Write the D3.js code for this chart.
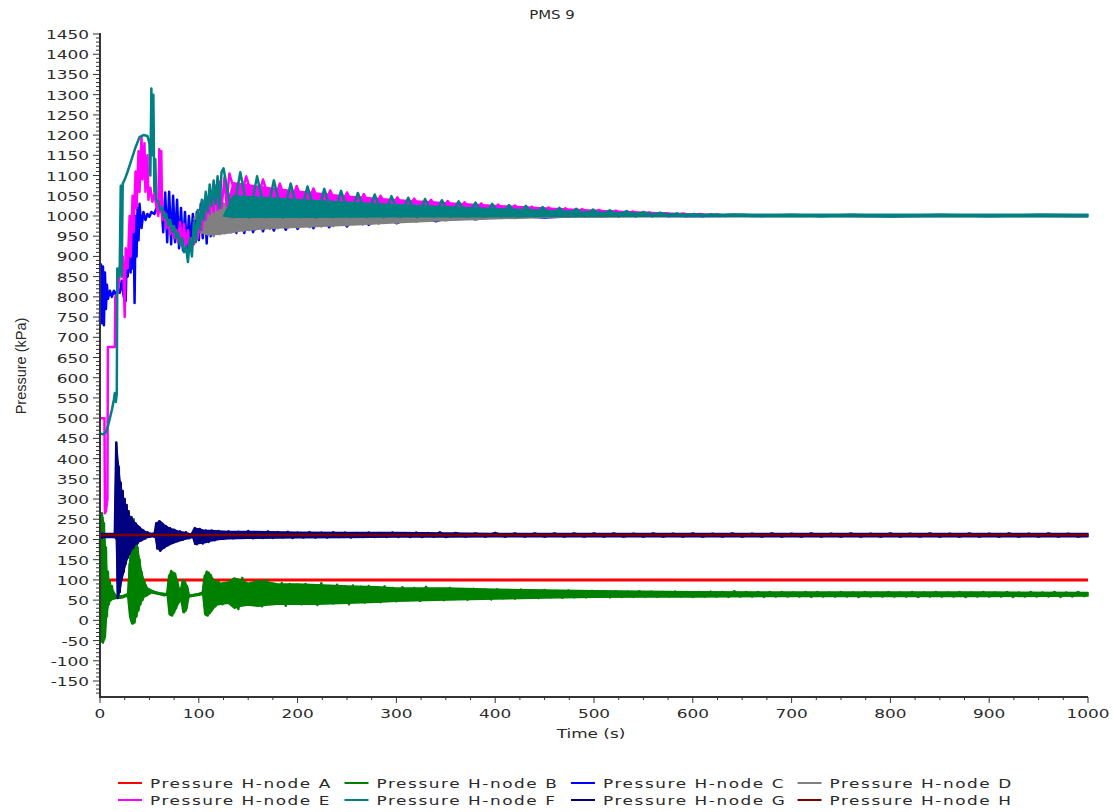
<!DOCTYPE html>
<html><head><meta charset="utf-8">
<script src="https://cdn.jsdelivr.net/npm/d3@7"></script>
<style>body{margin:0;background:#fff} svg{display:block}</style>
</head><body>
<svg id="chart" width="1113" height="812"></svg>
<script>
const chartTitle = "PMS 9";
const xLabel = "Time (s)";
const yLabel = "Pressure (kPa)";
const xTickValues = [0,100,200,300,400,500,600,700,800,900,1000];
const yTickValues = [-150,-100,-50,0,50,100,150,200,250,300,350,400,450,500,550,600,650,700,750,800,850,900,950,1000,1050,1100,1150,1200,1250,1300,1350,1400,1450];
const seriesNames = ["Pressure H-node A","Pressure H-node B","Pressure H-node C","Pressure H-node D","Pressure H-node E","Pressure H-node F","Pressure H-node G","Pressure H-node H"];
const seriesColors = ["#ff0000","#008000","#0000ff","#808080","#ff00ff","#008080","#000080","#800000"];

// traces: [time s, pressure kPa]
const nodeA = [[0,100],[1000,100]];
const nodeH = [[0,211],[1000,211]];
const nodeB = [[0,200],[1,-50],[2,265],[3,-55],[4,240],[5,-40],[6,180],[7,10],[8,120],[9,40],[10,95],[11,50],[12,85],[13,55],[15,60],[18,56],[22,58],[26,62],[29,65],[30,140],[31,10],[32,240],[33,-8],[34,250],[35,-5],[36,220],[37,10],[38,180],[39,25],[40,150],[41,40],[42,120],[43,50],[45,95],[47,62],[50,75],[55,70],[60,66],[65,62],[68,65],[70,110],[71,15],[72,122],[73,12],[74,118],[75,20],[76,115],[77,30],[78,100],[80,45],[82,75],[84,100],[85,20],[86,95],[87,25],[88,85],[90,60],[95,63],[100,65],[104,68],[106,110],[107,15],[108,120],[109,12],[110,118],[111,18],[112,112],[113,25],[115,100],[117,35],[120,95],[124,40],[128,92],[132,45],[136,100],[140,28],[144,105],[148,42],[152,90],[156,38],[160,95],[164,35],[168,100],[172,40],[176,88],[180,42],[184,92],[188,36],[192,90],[196,45],[200,88],[204,40],[208,90],[212,44],[216,86],[220,38],[224,92],[228,45],[232,85],[236,42],[240,88],[244,46],[248,84],[252,40],[256,86],[260,47],[264,83],[268,44],[272,85],[276,48],[280,82],[284,45],[288,84],[292,50],[296,80],[300,47],[306,82],[312,50],[318,80],[324,48],[330,83],[336,52],[342,78],[348,50],[354,80],[360,53],[366,77],[372,51],[378,78],[384,54],[390,76],[396,52],[402,77],[408,55],[414,75],[420,54],[426,76],[432,56],[438,74],[444,55],[450,75],[456,57],[462,73],[468,56],[474,74],[480,57],[486,72],[492,57],[498,73],[504,58],[510,72],[516,57],[522,72],[528,58],[534,71],[540,58],[546,72],[552,59],[558,71],[564,58],[570,70],[576,59],[582,71],[588,59],[594,70],[600,58],[606,70],[612,59],[618,71],[624,59],[630,70],[636,58],[642,72],[648,59],[654,70],[660,59],[666,70],[672,58],[678,70],[684,59],[690,70],[696,59],[702,69],[708,59],[714,70],[720,58],[726,70],[732,59],[738,69],[744,59],[750,70],[756,59],[762,69],[768,58],[774,70],[780,59],[786,69],[792,59],[798,70],[804,59],[810,69],[816,59],[822,70],[828,58],[834,69],[840,59],[846,70],[852,59],[858,69],[864,59],[870,70],[876,58],[882,69],[888,59],[894,70],[900,59],[906,69],[912,59],[918,70],[924,58],[930,69],[936,59],[942,70],[948,59],[954,69],[960,59],[966,70],[972,58],[978,69],[984,59],[990,70],[996,60],[1000,65]];
const nodeC = [[0,740],[1,880],[2,735],[3,875],[4,730],[5,860],[6,770],[7,830],[8,795],[10,815],[12,800],[14,815],[16,805],[18,820],[20,810],[22,840],[24,800],[25,880],[26,790],[27,900],[28,850],[30,940],[31,860],[32,960],[33,870],[34,985],[35,785],[36,1000],[37,900],[38,1020],[39,940],[40,1030],[42,970],[44,1010],[46,990],[48,1005],[50,998],[52,1010],[55,1005],[58,1025],[60,1010],[62,1035],[64,960],[66,1058],[68,935],[70,1060],[72,930],[74,1050],[76,935],[78,1040],[80,920],[82,1020],[84,915],[86,1010],[88,910],[90,1000],[92,930],[94,1005],[96,945],[98,1010],[100,940],[102,1030],[104,945],[106,1040],[108,932],[110,1045],[112,950],[114,1055],[116,955],[118,1040],[120,960],[123,1030],[126,958],[129,1025],[132,960],[135,1018],[138,958],[142,1005],[146,958],[150,1002],[155,960],[160,1002],[165,962],[170,1003],[176,964],[182,1003],[188,966],[194,1004],[200,968],[208,1004],[216,970],[224,1004],[232,972],[240,1004],[250,974],[260,1004],[272,978],[285,1003],[300,982],[320,1003],[340,987],[360,1002],[380,992],[400,1002],[450,996],[500,1002],[600,999],[700,1002],[800,999],[900,1002],[1000,1000]];
const nodeD = [[95,990],[100,1010],[103,960],[106,1020],[109,955],[112,1030],[115,950],[118,1030],[121,955],[124,1032],[127,958],[130,1028],[133,960],[136,1025],[139,962],[142,1020],[145,963],[148,1015],[151,965],[154,1012],[157,966],[160,1010],[164,968],[168,1008],[172,968],[176,1006],[180,970],[185,1005],[190,970],[195,1004],[200,972],[206,1003],[212,972],[218,1003],[224,974],[230,1002],[236,975],[242,1002],[250,977],[258,1002],[266,979],[274,1001],[282,981],[290,1001],[300,983],[310,1001],[320,986],[335,1001],[350,989],[365,1000],[380,992],[400,1000],[420,995],[450,1000],[500,998],[600,1000],[1000,1000]];
const nodeE = [[0,500],[4.5,500],[5,265],[6,270],[7.5,300],[8,676],[15,676],[15.5,800],[18,810],[21,880],[23,900],[24,840],[25,750],[26,920],[28,870],[30,1000],[31,900],[33,1050],[34,960],[36,1110],[37,1020],[39,1160],[40,1060],[42,1195],[43,1090],[45,1180],[46,1060],[48,1150],[49,1040],[51,1070],[53,1035],[55,1055],[57,1025],[59,1000],[60,1165],[61,1010],[62,1160],[63,990],[65,1010],[67,970],[69,990],[71,955],[73,975],[75,945],[77,965],[79,935],[81,985],[83,925],[85,980],[87,918],[89,965],[91,915],[93,945],[95,930],[97,965],[99,945],[101,995],[103,965],[105,1025],[107,990],[109,1045],[111,1005],[113,1060],[115,1010],[117,1075],[119,1015],[121,1085],[123,1020],[126,1095],[128,1030],[131,1105],[140,1025],[148,1098],[157,1022],[165,1090],[174,1018],[182,1080],[191,1016],[199,1074],[208,1015],[216,1068],[225,1014],[233,1063],[242,1013],[250,1058],[259,1012],[267,1054],[276,1011],[284,1050],[293,1010],[301,1046],[310,1009],[318,1043],[327,1008],[335,1040],[344,1007],[352,1037],[361,1006],[369,1034],[378,1006],[386,1031],[395,1005],[403,1028],[412,1005],[420,1026],[429,1004],[437,1023],[446,1004],[454,1021],[463,1003],[471,1019],[480,1003],[488,1017],[497,1003],[505,1015],[514,1002],[522,1013],[531,1002],[539,1011],[548,1002],[556,1009],[565,1001],[573,1007],[582,1001],[590,1006],[599,1001],[607,1005],[616,1000],[624,1004],[633,1000],[641,1003],[660,1000],[700,1001],[1000,1000]];
const nodeF = [[0,462],[3,460],[6,465],[8,480],[10,500],[12,520],[14,545],[15,562],[16,540],[17,560],[17.5,870],[19,850],[20,880],[21,1075],[22,850],[23,1080],[25,1090],[28,1110],[32,1140],[36,1170],[40,1195],[44,1200],[48,1198],[50,1180],[51,1100],[52,1315],[53,1150],[54,1300],[55,1060],[56,1140],[57,1040],[59,1035],[61,1015],[63,1020],[65,995],[67,1005],[69,975],[71,990],[73,960],[75,975],[77,945],[79,960],[81,928],[83,945],[85,910],[87,925],[89,886],[91,945],[93,900],[95,985],[97,935],[99,1015],[101,965],[103,1040],[105,990],[107,1060],[109,1010],[111,1078],[113,1025],[115,1088],[117,1030],[119,1098],[121,1020],[123,1108],[125,1118],[134,997],[142,1108],[151,996],[159,1098],[168,997],[176,1088],[185,996],[193,1080],[202,997],[210,1073],[219,996],[227,1067],[236,997],[244,1062],[253,997],[261,1057],[270,997],[278,1053],[287,997],[295,1049],[304,998],[312,1045],[321,997],[329,1042],[338,998],[346,1039],[355,998],[363,1036],[372,998],[380,1033],[389,998],[397,1030],[406,998],[414,1027],[423,998],[431,1025],[440,999],[448,1022],[457,999],[465,1020],[474,999],[482,1018],[491,999],[499,1016],[508,999],[516,1014],[525,999],[533,1012],[542,999],[550,1010],[559,999],[567,1008],[576,999],[584,1006],[593,999],[601,1005],[610,999],[618,1004],[627,1000],[635,1003],[652,1003],[670,1000],[700,1003],[730,999],[760,1003],[800,999],[850,1003],[900,999],[950,1003],[1000,1001]];
const nodeG = [[0,215],[2,205],[5,212],[10,208],[15,210],[16.5,440],[18,55],[19,380],[20,70],[21,340],[22,100],[23,320],[24,120],[25,300],[26,140],[27,285],[28,155],[29,270],[30,165],[32,255],[34,180],[36,240],[38,190],[40,230],[42,198],[44,222],[46,203],[48,218],[50,207],[53,214],[55,208],[57,240],[58,178],[60,245],[61,172],[63,238],[65,180],[67,232],[69,186],[71,228],[73,192],[75,224],[78,196],[81,220],[84,200],[87,218],[90,203],[93,214],[96,228],[98,188],[101,226],[104,190],[107,222],[110,194],[113,222],[116,198],[120,221],[125,202],[130,220],[135,203],[140,219],[145,204],[150,221],[155,203],[160,218],[165,204],[170,220],[175,204],[180,218],[185,205],[190,219],[195,204],[200,217],[206,205],[212,218],[218,205],[224,217],[230,205],[236,218],[242,206],[248,217],[254,205],[260,216],[266,206],[272,217],[278,206],[284,216],[290,206],[296,217],[302,206],[308,216],[314,206],[320,217],[326,206],[332,216],[338,207],[344,218],[350,206],[360,216],[370,207],[380,215],[390,207],[400,216],[410,207],[420,215],[430,207],[440,215],[450,207],[460,215],[470,207],[480,215],[490,207],[500,215],[510,207],[520,215],[530,207],[540,214],[550,207],[560,215],[570,207],[580,214],[590,207],[600,215],[610,207],[620,214],[630,207],[640,215],[650,207],[660,214],[670,207],[680,215],[690,207],[700,214],[710,207],[720,215],[730,207],[740,214],[750,207],[760,215],[770,207],[780,214],[790,207],[800,215],[810,207],[820,214],[830,207],[840,215],[850,207],[860,214],[870,207],[880,215],[890,207],[900,214],[910,207],[920,215],[930,207],[940,214],[950,207],[960,215],[970,207],[980,214],[990,207],[1000,212]];

// dense-oscillation envelopes: [time s, low kPa, high kPa]
const bandB = [[0,-50,265],[3,-55,255],[5,-45,200],[7,20,110],[9,45,95],[11,50,82],[13,52,75],[16,54,62],[22,55,60],[28,60,66],[30,10,140],[32,-8,245],[34,-8,250],[36,5,220],[38,20,180],[40,35,150],[42,48,120],[45,58,95],[48,62,80],[52,68,74],[60,64,68],[68,62,66],[70,15,110],[72,12,122],[74,15,118],[76,25,115],[78,35,100],[80,45,80],[82,50,75],[84,20,100],[86,22,95],[88,30,85],[90,58,62],[100,62,66],[104,64,70],[106,15,110],[108,12,120],[110,15,118],[112,20,112],[115,30,100],[118,38,95],[122,40,92],[130,42,95],[136,30,105],[142,35,100],[150,38,92],[160,35,98],[170,38,95],[180,40,90],[200,40,90],[220,40,88],[250,42,85],[280,45,83],[300,47,80],[350,50,80],[400,53,77],[450,55,75],[500,57,73],[550,58,72],[600,58,71],[700,59,70],[800,59,70],[900,59,70],[1000,60,69]];
const bandD = [[100,960,1010],[110,953,1030],[120,955,1032],[130,958,1030],[140,962,1022],[150,965,1015],[160,967,1010],[180,970,1006],[200,972,1004],[250,977,1002],[300,983,1001],[350,989,1000],[400,993,1000],[450,997,1000],[500,998,1001]];
const bandE = [[128,1025,1025],[135,1010,1082],[182,1010,1066],[250,1008,1049],[300,1006,1040],[350,1005,1033],[400,1004,1026],[450,1003,1020],[500,1002,1014],[550,1001,1009],[600,1000,1005],[650,1000,1002]];
const bandF = [[125,1000,1000],[135,997,1050],[200,997,1040],[300,998,1028],[400,998,1018],[500,999,1010],[600,999,1004],[700,998,1004],[1000,998,1004]];
const bandG = [[0,205,215],[15,205,215],[16.5,200,440],[18,55,400],[20,70,350],[22,100,320],[24,120,300],[26,140,285],[28,155,270],[30,165,258],[33,178,248],[36,188,240],[40,195,230],[44,200,222],[48,205,217],[53,207,214],[56,205,218],[58,178,242],[61,172,245],[65,180,236],[70,187,228],[75,192,224],[80,196,220],[85,200,218],[90,203,215],[94,205,214],[96,188,228],[100,190,226],[106,192,222],[112,196,222],[120,200,221],[130,202,220],[150,203,220],[200,204,218],[250,205,217],[300,206,217],[350,206,216],[400,207,215],[1000,207,215]];

const seriesData = [nodeA, nodeB, nodeC, nodeD, nodeE, nodeF, nodeG, nodeH];
const seriesBands = [null, bandB, null, bandD, bandE, bandF, bandG, null];

const svg = d3.select("#chart");
const x = d3.scaleLinear().domain([0, 1000]).range([100, 1088]);
const y = d3.scaleLinear().domain([-150, 1450]).range([681, 34]);
const yBottom = 697, yTop = 33;
const SX = 1.3;
const axisColor = "#333";
const fontMain = "DejaVu Sans, Verdana, sans-serif";

function stext(parent, px, py, str, anchor, size, sx, ls) {
  return parent.append("text")
    .attr("transform", `translate(${px},${py}) scale(${sx},1)`)
    .attr("text-anchor", anchor)
    .style("font-family", fontMain)
    .style("font-size", size + "px")
    .style("letter-spacing", (ls || 0) + "px")
    .attr("fill", "#2a2a2a")
    .text(str);
}

// data
const line = d3.line().x(d => x(d[0])).y(d => y(d[1]));
const area = d3.area().x(d => x(d[0])).y0(d => y(d[1])).y1(d => y(d[2]));
const gLines = svg.append("g");
seriesData.forEach((data, i) => {
  if (seriesBands[i]) {
    gLines.append("path")
      .attr("d", area(seriesBands[i]))
      .attr("fill", seriesColors[i])
      .attr("stroke", seriesColors[i])
      .attr("stroke-width", 1.5)
      .attr("stroke-linejoin", "round");
  }
  gLines.append("path")
    .attr("d", line(data))
    .attr("fill", "none")
    .attr("stroke", seriesColors[i])
    .attr("stroke-width", i === 0 ? 3 : 2.5)
    .attr("stroke-linejoin", "round");
});

// y axis
const gy = svg.append("g");
gy.append("line").attr("x1", 100).attr("x2", 100).attr("y1", yTop).attr("y2", yBottom)
  .attr("stroke", axisColor).attr("stroke-width", 2);
d3.range(-180, 1451, 10).forEach(v => {
  const major = v % 50 === 0;
  gy.append("line").attr("x1", major ? 93 : 96).attr("x2", 100)
    .attr("y1", y(v)).attr("y2", y(v)).attr("stroke", axisColor).attr("stroke-width", 1);
});
yTickValues.forEach(v => {
  stext(gy, 89, y(v) + 5, String(v), "end", 13, SX, 0);
});

// x axis
const gx = svg.append("g");
gx.append("line").attr("x1", 99).attr("x2", x(1000)).attr("y1", yBottom).attr("y2", yBottom)
  .attr("stroke", axisColor).attr("stroke-width", 2);
d3.range(0, 1001, 25).forEach(t => {
  const major = t % 100 === 0;
  gx.append("line").attr("x1", x(t)).attr("x2", x(t))
    .attr("y1", yBottom).attr("y2", yBottom + (major ? 6 : 3))
    .attr("stroke", axisColor).attr("stroke-width", 1);
});
xTickValues.forEach(t => {
  stext(gx, x(t), 718, String(t), "middle", 13, SX, 0);
});

// titles
stext(svg, 552, 19, chartTitle, "middle", 11.5, SX, 0);
stext(svg, 591, 738, xLabel, "middle", 13, SX, 0);
svg.append("text")
  .attr("transform", "translate(26,366) rotate(-90)")
  .attr("text-anchor", "middle")
  .style("font-family", "Liberation Sans, Arial, sans-serif")
  .style("font-size", "14.5px")
  .attr("fill", "#2a2a2a")
  .text(yLabel);

// legend
const legendCols = [118, 344.5, 571, 797.5];
const legendRows = [783, 800];
seriesNames.forEach((name, i) => {
  const cx = legendCols[i % 4];
  const cy = legendRows[Math.floor(i / 4)];
  svg.append("line").attr("x1", cx).attr("x2", cx + 24).attr("y1", cy).attr("y2", cy)
    .attr("stroke", seriesColors[i]).attr("stroke-width", 2);
  stext(svg, cx + 32, cy + 5, name, "start", 13, SX, 1.2);
});
</script>
</body></html>
